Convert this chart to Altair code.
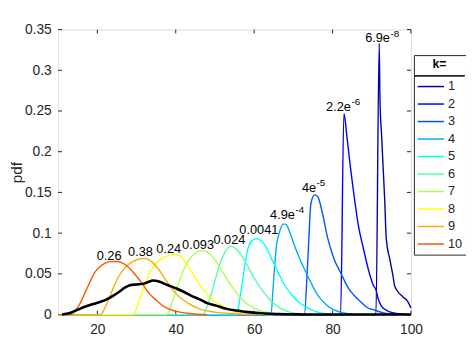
import altair as alt
import pandas as pd

# ---- data ----
k_labels = ["1", "2", "3", "4", "5", "6", "7", "8", "9", "10"]
k_colors = ["#0000AA", "#0000FF", "#0055FF", "#00AAFF", "#00FFFF",
            "#55FFAA", "#AAFF55", "#FFFF00", "#FFAA00", "#FF5500"]

x_k1 = [10, 91.07, 91.9, 92.1, 92.5, 92.9, 93.3, 93.7, 94.6, 95.4, 95.8, 96.7, 97.9, 99.2, 100]
y_k1 = [0, 0, 0.333, 0.262, 0.221, 0.181, 0.141, 0.093, 0.068, 0.048, 0.036, 0.028, 0.022, 0.016, 0.008]

x_k2 = [10, 82.05, 82.9, 83.7, 84.55, 85.4, 86.6, 87.9, 89.1, 90.4, 91.1, 91.6, 92.5, 94.2, 97, 100]
y_k2 = [0, 0, 0.247, 0.217, 0.181, 0.149, 0.109, 0.0805, 0.056, 0.036, 0.030, 0.020, 0.010, 0.004, 0.001, 0]

x_k3 = [10, 72.8, 73.7, 74.5, 75.4, 76.2, 77.4, 78.7, 80.4, 82.0, 84.1, 85.4, 87.1, 88.7, 90.4, 93, 97]
y_k3 = [0, 0, 0.068, 0.137, 0.147, 0.145, 0.125, 0.095, 0.068, 0.052, 0.032, 0.024, 0.016, 0.009, 0.006, 0.002, 0]

x_k4 = [10, 64.3, 64.8, 65.3, 65.8, 66.2, 66.8, 67.4, 68.0, 68.5, 69.4, 70.3, 71.5, 72.8, 74.5, 76.2, 78, 79.5, 82, 85]
y_k4 = [0, 0, 0.030, 0.064, 0.088, 0.097, 0.106, 0.111, 0.111, 0.108, 0.097, 0.0845, 0.070, 0.056, 0.039, 0.024, 0.014, 0.008, 0.003, 0.0008]

x_k5 = [10, 55.5, 56.3, 57.0, 57.8, 58.6, 59.5, 60.6, 61.7, 62.8, 64.0, 65.3, 66.5, 67.8, 69.5, 71.2, 73, 74.5, 77, 80]
y_k5 = [0, 0, 0.018, 0.040, 0.066, 0.084, 0.091, 0.0933, 0.091, 0.085, 0.073, 0.060, 0.048, 0.036, 0.025, 0.016, 0.010, 0.006, 0.002, 0.0005]

x_k6 = [10, 46.9, 48.3, 49.7, 51.1, 52.5, 53.9, 55.3, 57.0, 58.5, 60.0, 62.0, 64.5, 67.0, 70, 75]
y_k6 = [0, 0, 0.014, 0.036, 0.060, 0.076, 0.0837, 0.081, 0.071, 0.058, 0.045, 0.030, 0.016, 0.007, 0.002, 0]

x_k7 = [10, 37.7, 39.4, 41.0, 42.5, 44.0, 45.5, 46.9, 48.3, 49.6, 51.0, 52.5, 54.5, 57.0, 60.0, 63, 68]
y_k7 = [0, 0, 0.020, 0.042, 0.060, 0.071, 0.077, 0.0785, 0.076, 0.070, 0.060, 0.048, 0.033, 0.018, 0.008, 0.003, 0.0005]

x_k8 = [10, 29.2, 30.6, 32.0, 33.4, 35.0, 36.9, 38.5, 39.7, 41.0, 42.3, 43.6, 45.0, 47.0, 49.5, 52.0, 55, 60, 65]
y_k8 = [0, 0, 0.016, 0.036, 0.052, 0.063, 0.070, 0.073, 0.0736, 0.072, 0.066, 0.056, 0.045, 0.031, 0.018, 0.010, 0.004, 0.001, 0]

x_k9 = [10, 20.8, 22.3, 24.0, 25.6, 27.0, 28.1, 30.2, 32.0, 34.0, 35.7, 37.8, 40.0, 42.8, 46.0, 50.0, 55, 60]
y_k9 = [0, 0, 0.012, 0.032, 0.048, 0.057, 0.062, 0.0676, 0.069, 0.0644, 0.055, 0.040, 0.026, 0.015, 0.007, 0.003, 0.001, 0]

x_k10 = [10, 13.0, 14.3, 15.5, 16.9, 18.2, 19.4, 20.7, 21.9, 23.2, 25.0, 26.3, 27.5, 28.6, 30.0, 31.9, 33.2, 35.2, 36.9, 38.6, 41.0, 44.0, 48.0]
y_k10 = [0, 0, 0.004, 0.013, 0.027, 0.041, 0.052, 0.059, 0.063, 0.065, 0.0652, 0.0635, 0.060, 0.055, 0.047, 0.035, 0.026, 0.017, 0.010, 0.006, 0.003, 0.001, 0]

x_black = [11, 13, 15, 17, 19, 21, 22.5, 24, 25.6, 27, 28.3, 30, 31.9, 33, 34.2, 35.5, 37, 38.6, 40.2, 42,
           44, 46, 48, 50.3, 53, 55.3, 58.6, 62, 66, 72, 80, 100]
y_black = [0, 0.002, 0.006, 0.010, 0.013, 0.016, 0.019, 0.023, 0.028, 0.033, 0.036, 0.037, 0.038, 0.040, 0.0418, 0.041,
           0.038, 0.035, 0.032, 0.028, 0.023, 0.019, 0.014, 0.011, 0.007, 0.005, 0.003, 0.0015, 0.0007, 0.0002, 0, 0]

# peak annotations: plain numbers (centred) and mantissa/exponent pairs
num_text = ["0.0041", "0.024", "0.093", "0.24", "0.38", "0.26"]
num_x = [61.2, 53.7, 45.7, 38.2, 31.0, 23.0]
num_y = [0.0975, 0.0853, 0.0797, 0.0744, 0.0704, 0.0664]

sci_base = ["6.9e", "2.2e", "4e", "4.9e"]
sci_exp = ["-8", "-6", "-5", "-4"]
sci_x = [94.65, 84.7, 75.8, 70.4]
sci_y = [0.333, 0.249, 0.149, 0.116]

x_ticks = [20, 40, 60, 80, 100]
y_ticks = [0, 0.05, 0.1, 0.15, 0.2, 0.25, 0.3, 0.35]

# ---- build tables ----
curve_x = [x_k1, x_k2, x_k3, x_k4, x_k5, x_k6, x_k7, x_k8, x_k9, x_k10]
curve_y = [y_k1, y_k2, y_k3, y_k4, y_k5, y_k6, y_k7, y_k8, y_k9, y_k10]
rows = []
for i, (xs, ys) in enumerate(zip(curve_x, curve_y)):
    for j, (xv, yv) in enumerate(zip(xs, ys)):
        rows.append({"k": k_labels[i], "idx": j, "x": xv, "y": yv})
curves = pd.DataFrame(rows)
black = pd.DataFrame({"x": x_black, "y": y_black})
nums = pd.DataFrame({"text": num_text, "x": num_x, "y": num_y})
sci = pd.DataFrame({"base": sci_base, "exp": sci_exp, "x": sci_x, "y": sci_y})
xt = pd.DataFrame({"v": x_ticks})
yt = pd.DataFrame({"v": y_ticks})

W, H = 359, 290
FONT = "Liberation Sans"
GREY = "#262626"

xscale = alt.Scale(domain=[10, 100], nice=False, zero=False)
yscale = alt.Scale(domain=[0, 0.35], nice=False)

xaxis = alt.Axis(values=x_ticks, ticks=False, domain=False, grid=False, title=None, labelFlush=False,
                 labelFontSize=14, labelColor=GREY, labelFont=FONT, labelPadding=8)
yaxis = alt.Axis(values=y_ticks, ticks=False, domain=False, grid=False, title="pdf", format="~g",
                 labelFlush=False,
                 labelFontSize=14, labelColor=GREY, labelFont=FONT, labelPadding=7,
                 titleFontSize=15.5, titleFontWeight="normal", titleColor=GREY, titleFont=FONT, titlePadding=0)

lines = alt.Chart(curves).mark_line(strokeWidth=1.4, interpolate="monotone").encode(
    x=alt.X("x:Q", scale=xscale, axis=xaxis),
    y=alt.Y("y:Q", scale=yscale, axis=yaxis),
    color=alt.Color("k:N", sort=k_labels,
                    scale=alt.Scale(domain=k_labels, range=k_colors),
                    legend=alt.Legend(title="k=", orient="none", legendX=362, legendY=26,
                                      symbolType="M-2,0H2", symbolSize=178, symbolStrokeWidth=1.5,
                                      symbolOffset=6.7, labelOffset=10,
                                      labelFontSize=13, labelFont=FONT, labelColor=GREY,
                                      titleFontSize=12.5, titleFont=FONT, titleFontWeight="bold",
                                      titleColor="#000000", titleAnchor="middle", titleAlign="center",
                                      titlePadding=9,
                                      strokeColor=GREY, padding=3, rowPadding=2.8)),
    order=alt.Order("idx:Q"),
)

blk = alt.Chart(black).mark_line(strokeWidth=2.6, color="#000000", interpolate="monotone").encode(
    x=alt.X("x:Q", scale=xscale), y=alt.Y("y:Q", scale=yscale))

txt = alt.Chart(nums).mark_text(fontSize=13, font=FONT, color="#000000", align="center",
                                baseline="alphabetic", dy=-1).encode(
    x=alt.X("x:Q", scale=xscale), y=alt.Y("y:Q", scale=yscale), text="text:N")
sbase = alt.Chart(sci).mark_text(fontSize=13, font=FONT, color="#000000", align="right",
                                 baseline="alphabetic", dy=-1).encode(
    x=alt.X("x:Q", scale=xscale), y=alt.Y("y:Q", scale=yscale), text="base:N")
sexp = alt.Chart(sci).mark_text(fontSize=10, font=FONT, color="#000000", align="left",
                                baseline="alphabetic", dy=-7, dx=0.5).encode(
    x=alt.X("x:Q", scale=xscale), y=alt.Y("y:Q", scale=yscale), text="exp:N")

tick_len = 4
xb = alt.Chart(xt).mark_rule(color=GREY).encode(x=alt.X("v:Q", scale=xscale), y=alt.value(H), y2=alt.value(H - tick_len))
xtp = alt.Chart(xt).mark_rule(color=GREY).encode(x=alt.X("v:Q", scale=xscale), y=alt.value(0), y2=alt.value(tick_len))
yl = alt.Chart(yt).mark_rule(color=GREY).encode(y=alt.Y("v:Q", scale=yscale), x=alt.value(0), x2=alt.value(tick_len))
yr = alt.Chart(yt).mark_rule(color=GREY).encode(y=alt.Y("v:Q", scale=yscale), x=alt.value(W), x2=alt.value(W - tick_len))

# separator line under the legend title
sep = alt.Chart(xt).mark_rule(color=GREY).encode(x=alt.value(362.5), x2=alt.value(413.5), y=alt.value(47))

chart = alt.layer(xb, xtp, yl, yr, lines, blk, txt, sbase, sexp, sep).properties(
    width=W, height=H,
    autosize=alt.AutoSizeParams(type="none"),
    padding={"left": 51, "top": 19, "right": 56, "bottom": 26},
).configure_view(stroke=GREY, strokeWidth=1).configure(background="white")

chart.save("out.html", embed_options={"renderer": "svg", "actions": False})
